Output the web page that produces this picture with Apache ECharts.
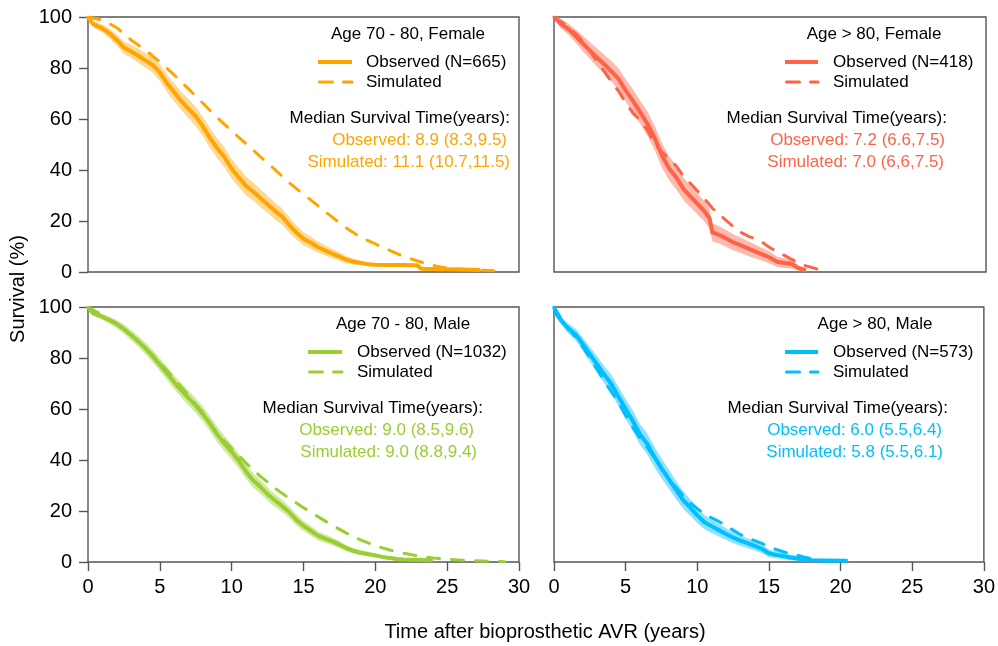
<!DOCTYPE html>
<html>
<head>
<meta charset="utf-8">
<script src="https://cdn.jsdelivr.net/npm/echarts@6/dist/echarts.min.js"></script>
<style>
  html, body { margin: 0; padding: 0; background: #fff; }
  #chart { width: 998px; height: 646px; }
</style>
</head>
<body>
<div id="chart"></div>
<script>
// ---- Kaplan-Meier survival after bioprosthetic AVR, by age group and sex ----

// Age 70 - 80, Female
const f7080Time = [0,0.3,0.5,1,1.5,2,2.5,3,3.5,4,4.5,5,5.5,6,6.5,7,7.5,8,8.5,9,9.5,10,10.5,11,11.5,12,12.5,13,13.5,14,14.5,15,15.5,16,16.5,17,17.5,18,18.5,19,19.5,20,21,22,22.9,23.2,24,25,26,27.3];
const f7080Obs  = [100,97.5,96.8,95.5,93.6,91,88,86.5,84.8,83,81.2,78.2,74,70.5,67,64,61,57,52.5,48.5,45,40.5,37,33.8,31.5,29,26.5,24,21.8,18.5,15.5,13,11.5,9.8,8.5,7.2,6,4.8,4,3.5,3,2.8,2.7,2.7,2.6,1.3,1.2,1.1,1.0,0.8];
const f7080Lo   = [100,96.3,95.5,93.9,91.7,88.9,85.6,83.9,82.1,80.1,78.2,75.0,70.6,67.0,63.4,60.3,57.2,53.2,48.6,44.6,41.1,36.7,33.2,30.1,27.9,25.5,23.1,20.7,18.6,15.5,12.7,10.4,9.1,7.6,6.5,5.4,4.4,3.4,2.8,2.7,2.4,2.3,2.3,2.3,2.2,1.0,0.9,0.8,0.7,0.6];
const f7080Hi   = [100,98.7,98.1,97.1,95.5,93.1,90.4,89.1,87.5,85.9,84.2,81.4,77.4,74.0,70.6,67.7,64.8,60.8,56.4,52.4,48.9,44.3,40.8,37.5,35.1,32.5,29.9,27.3,25.0,21.5,18.3,15.6,13.9,12.0,10.5,9.0,7.6,6.2,5.2,4.3,3.6,3.3,3.1,3.1,3.0,1.6,1.5,1.4,1.3,1.0];
const f7080SimTime = [0,1,2,3,4,5,6,7,8,9,10,11,12,13,14,15,16,17,18,19,20,21,22,23,24,25,26,27,28,29];
const f7080Sim     = [100,98.8,95.8,91,87,82.4,77.3,71.8,66.2,60.5,55.3,50.3,45.2,40.2,35,30.5,26,21.5,17.2,13.5,11,8.5,6,4.2,2.6,1.5,1.1,0.8,0.6,0.3];

// Age > 80, Female
const f80Time = [0,0.3,0.5,1,1.5,2,2.5,3,3.5,4,4.5,5,5.5,6,6.5,7,7.5,8,8.5,9,9.5,10,10.5,10.8,11,11.5,12,12.5,13,13.5,14,14.5,15,15.5,16,16.5,17,17.5];
const f80Obs  = [100,98.3,97.2,95.3,92.5,89.6,86.8,84,81.4,78.6,75.6,71,67,62.5,58,52.5,45.7,40.6,37,32.5,29.5,26.5,23.5,21,15.5,14.5,13,11.5,10.4,9.2,8,6.8,5.6,4,3.5,3.2,1.5,0.7];
const f80Lo   = [100,96.8,95.4,93.1,89.9,86.6,83.5,80.4,77.6,74.6,71.4,66.6,62.5,57.9,53.2,47.7,40.9,35.9,32.4,28.1,25.2,22.4,19.5,17.1,12.0,11.1,9.7,8.4,7.4,6.3,5.3,4.3,3.3,2.0,1.6,1.4,0.5,0.1];
const f80Hi   = [100,99.8,99.0,97.5,95.1,92.6,90.1,87.6,85.2,82.6,79.8,75.4,71.5,67.1,62.8,57.3,50.5,45.3,41.6,36.9,33.8,30.6,27.5,24.9,19.0,17.9,16.3,14.6,13.4,12.1,10.7,9.3,7.9,6.0,5.4,5.0,2.5,1.3];
const f80SimTime = [0,0.5,1,1.5,2,2.5,3,3.5,4,4.5,5,5.5,6,6.5,7,7.5,8,8.5,9,9.5,10,10.5,11,11.5,12,12.5,13,13.5,14,14.5,15,15.5,16,16.5,17,17.5,18,18.5,19];
const f80Sim     = [100,98.2,96,93.5,90.5,86.5,82.5,78.6,74.5,70.8,66.2,62.2,59.5,55.5,50.2,47,44.5,41.5,37.5,34.6,31.5,28.4,25,22.5,20,17.5,15.5,14,13,11.5,9.5,8,6.5,5,3.5,2.4,1.6,0.8,0.2];

// Age 70 - 80, Male
const m7080Time = [0,0.3,0.5,1,1.5,2,2.5,3,3.5,4,4.5,5,5.5,6,6.5,7,7.5,8,8.5,9,9.5,10,10.5,11,11.5,12,12.5,13,13.5,14,14.5,15,15.5,16,16.5,17,17.5,18,18.5,19,19.5,20,20.5,21,21.5,22,23,24];
const m7080Obs  = [100,97.8,97.2,96.2,94.8,93.3,91.3,89,86.5,83.8,80.7,77.4,74,70.5,67.3,64.3,61.3,58,54.2,50,46.4,43.2,39.6,35.5,32,29.5,26.6,24.2,22,19.6,16.5,14.2,12.3,10.3,9.2,8.1,6.8,5.4,4.3,3.6,3.1,2.6,2.0,1.6,1.2,1.0,0.8,0.7];
const m7080Lo   = [100,96.9,96.2,95.0,93.4,91.7,89.5,87.0,84.4,81.5,78.3,74.9,71.4,67.8,64.5,61.4,58.4,55.0,51.2,47.0,43.4,40.2,36.7,32.6,29.2,26.8,24.0,21.7,19.6,17.3,14.3,12.2,10.4,8.5,7.5,6.6,5.4,4.2,3.2,2.6,2.2,1.8,1.5,1.2,0.9,0.7,0.5,0.4];
const m7080Hi   = [100,98.7,98.2,97.4,96.2,94.9,93.1,91.0,88.6,86.1,83.1,79.9,76.6,73.2,70.1,67.2,64.2,61.0,57.2,53.0,49.4,46.2,42.5,38.4,34.8,32.2,29.2,26.7,24.4,21.9,18.7,16.2,14.2,12.1,10.9,9.6,8.2,6.6,5.4,4.6,4.0,3.4,2.5,2.0,1.5,1.3,1.1,1.0];
const m7080SimTime = [0,1,2,3,4,5,6,7,8,9,10,11,12,13,14,15,16,17,18,19,20,21,22,23,24,25,26,27,28,29];
const m7080Sim     = [100,96.8,93.4,89,84,78.2,71.8,65.3,58.6,50.3,44.5,38.8,33.6,29,25,21.3,17.8,14.4,11.3,8.6,6.4,4.7,3.4,2.4,1.6,1.1,0.7,0.5,0.3,0.1];

// Age > 80, Male
const m80Time = [0,0.2,0.5,1,1.5,2,2.5,3,3.5,4,4.5,5,5.5,6,6.5,7,7.5,8,8.5,9,9.5,10,10.5,11,11.5,12,12.5,13,13.5,14,14.5,15,15.5,16,16.5,17,17.5,18,19,20,20.5];
const m80Obs  = [100,97,94.7,91.5,89.3,85.5,81.5,77.6,73.5,69.8,64.8,60,55.4,50,46.4,41.3,36.7,32.6,28.4,24.4,21.4,18.3,15.6,14,12.5,11,9.6,8.4,7.4,6.3,5.2,3.4,2.8,2.3,1.8,1.4,0.9,0.7,0.6,0.5,0.5];
const m80Lo   = [100,95.8,93.2,89.6,87.1,83.0,78.6,74.4,70.1,66.2,61.0,56.1,51.4,45.9,42.3,37.3,32.8,28.8,24.8,21.0,18.2,15.3,12.8,11.4,10.0,8.7,7.4,6.4,5.5,4.5,3.5,1.9,1.5,1.1,0.7,0.4,0.3,0.2,0.2,0.2,0.2];
const m80Hi   = [100,98.2,96.2,93.4,91.5,88.0,84.4,80.8,76.9,73.4,68.6,63.9,59.4,54.1,50.5,45.3,40.6,36.4,32.0,27.8,24.6,21.3,18.4,16.6,15.0,13.3,11.8,10.4,9.3,8.1,6.9,4.9,4.1,3.5,2.9,2.4,1.8,1.3,1.0,0.8,0.8];
const m80SimTime = [0,0.5,1,1.5,2,2.5,3,3.5,4,4.5,5,5.5,6,6.5,7,7.5,8,8.5,9,9.5,10,10.5,11,11.5,12,12.5,13,13.5,14,14.5,15,15.5,16,16.5,17,17.5,18,18.5,19];
const m80Sim     = [100,95.5,91.8,88.2,84.4,80,75.6,71,66.8,62.5,57.5,52.8,48.6,45,40.8,36.8,33,29.4,26,23.2,20.9,18.9,17.3,15.9,14.2,12.5,10.8,9.4,8.4,7.3,6,4.9,4,3.2,2.6,1.9,1.3,0.8,0.3];

// Panel titles, cohort sizes and median survival (years, 95% CI)
const panelTitles   = ['Age 70 - 80, Female', 'Age > 80, Female', 'Age 70 - 80, Male', 'Age > 80, Male'];
const cohortSizes   = [665, 418, 1032, 573];
const medianObs     = ['8.9 (8.3,9.5)', '7.2 (6.6,7.5)', '9.0 (8.5,9.6)', '6.0 (5.5,6.4)'];
const medianSim     = ['11.1 (10.7,11.5)', '7.0 (6,6,7.5)', '9.0 (8.8,9.4)', '5.8 (5.5,6.1)'];

// Axis ticks
const xTicks = { min: 0, max: 30, step: 5 };
const yTicks = { min: 0, max: 100, step: 20 };

const FONT = '"Liberation Sans", Arial, Helvetica, sans-serif';
const AXIS_COLOR = '#555';

// Layout and colours of each panel (top-left, top-right, bottom-left, bottom-right)
const panels = [
  { data: [f7080Time, f7080Obs, f7080Lo, f7080Hi, f7080SimTime, f7080Sim],
    color: '#FFA500', band: '#FFD894',
    grid: { left: 88, top: 17, width: 431, height: 255 }, xLabels: false, yLabels: true,
    titleX: 408, legX1: 318, legX2: 352, legTextX: 366, headR: 510, obsR: 507, simR: 510 },
  { data: [f80Time, f80Obs, f80Lo, f80Hi, f80SimTime, f80Sim],
    color: '#FF6347', band: '#FFBAAD',
    grid: { left: 554, top: 17, width: 432, height: 255 }, xLabels: false, yLabels: false,
    titleX: 874, legX1: 785, legX2: 818, legTextX: 833, headR: 947, obsR: 945, simR: 944 },
  { data: [m7080Time, m7080Obs, m7080Lo, m7080Hi, m7080SimTime, m7080Sim],
    color: '#9ACD32', band: '#D2E9A2',
    grid: { left: 88, top: 307, width: 431, height: 255 }, xLabels: true, yLabels: true,
    titleX: 403, legX1: 308, legX2: 342, legTextX: 357, headR: 483, obsR: 474, simR: 477 },
  { data: [m80Time, m80Obs, m80Lo, m80Hi, m80SimTime, m80Sim],
    color: '#00BFFF', band: '#8FE1FF',
    grid: { left: 554, top: 307, width: 432, height: 255 }, xLabels: true, yLabels: false,
    titleX: 875, legX1: 785, legX2: 818, legTextX: 833, headR: 948, obsR: 942, simR: 943 }
];

const zip = (xs, ys) => xs.map((x, i) => [x, ys[i]]);

const grids = [], xAxes = [], yAxes = [], series = [], graphics = [];

function textEl(x, y, text, color, align) {
  return {
    type: 'text', x: x, y: y, z: 100, silent: true,
    style: {
      text: text, fill: color, font: '17px ' + FONT,
      textAlign: align, align: align,
      textVerticalAlign: 'middle', verticalAlign: 'middle'
    }
  };
}

// confidence band drawn as a single polygon through the axis scales
function bandRenderer(color) {
  return function (params, api) {
    if (params.dataIndexInside !== 0) return null;
    const n = params.dataInsideLength;
    const upper = [], lower = [];
    for (let k = 0; k < n; k++) {
      const t = api.value(0, k);
      upper.push(api.coord([t, api.value(2, k)]));
      lower.push(api.coord([t, api.value(1, k)]));
    }
    return {
      type: 'polygon',
      shape: { points: upper.concat(lower.reverse()) },
      style: { fill: color, stroke: null }
    };
  };
}

panels.forEach((p, i) => {
  const [time, obs, lo, hi, simTime, sim] = p.data;
  grids.push(Object.assign({ show: true, borderColor: AXIS_COLOR, borderWidth: 1.4, backgroundColor: 'transparent' }, p.grid));

  xAxes.push({
    type: 'value', gridIndex: i, min: xTicks.min, max: xTicks.max, interval: xTicks.step,
    axisLine: { show: false },
    axisTick: { show: p.xLabels, length: 9, lineStyle: { color: AXIS_COLOR, width: 1.4 } },
    axisLabel: { show: p.xLabels, fontSize: 20, fontFamily: FONT, color: '#000', margin: 15 },
    splitLine: { show: false }
  });
  yAxes.push({
    type: 'value', gridIndex: i, min: yTicks.min, max: yTicks.max, interval: yTicks.step,
    axisLine: { show: false },
    axisTick: { show: p.yLabels, length: 9, lineStyle: { color: AXIS_COLOR, width: 1.4 } },
    axisLabel: { show: p.yLabels, fontSize: 20, fontFamily: FONT, color: '#000', margin: 16 },
    splitLine: { show: false }
  });

  // 95% confidence band of the observed curve
  series.push({
    type: 'custom', xAxisIndex: i, yAxisIndex: i, z: 1, silent: true,
    data: time.map((t, k) => [t, lo[k], hi[k]]),
    encode: { x: 0, y: [1, 2] },
    renderItem: bandRenderer(p.band)
  });
  // observed Kaplan-Meier curve
  series.push({
    type: 'line', xAxisIndex: i, yAxisIndex: i,
    data: zip(time, obs), symbol: 'none', silent: true, z: 3,
    lineStyle: { color: p.color, width: 4, join: 'round' }
  });
  // simulated survival
  series.push({
    type: 'line', xAxisIndex: i, yAxisIndex: i,
    data: zip(simTime, sim), symbol: 'none', silent: true, z: 4,
    lineStyle: { color: p.color, width: 3, type: [12, 12], cap: 'round', join: 'round' }
  });

  const top = p.grid.top;
  graphics.push(textEl(p.titleX, top + 17.5, panelTitles[i], '#000', 'center'));
  graphics.push({
    type: 'line', z: 100, silent: true,
    shape: { x1: p.legX1, y1: top + 45, x2: p.legX2, y2: top + 45 },
    style: { stroke: p.color, lineWidth: 4 }
  });
  graphics.push({
    type: 'line', z: 100, silent: true,
    shape: { x1: p.legX1 + 1.5, y1: top + 65, x2: p.legX2, y2: top + 65 },
    style: { stroke: p.color, lineWidth: 3, lineDash: [13, 11], lineCap: 'round' }
  });
  graphics.push(textEl(p.legTextX, top + 45, 'Observed (N=' + cohortSizes[i] + ')', '#000', 'left'));
  graphics.push(textEl(p.legTextX, top + 65, 'Simulated', '#000', 'left'));
  graphics.push(textEl(p.headR, top + 101.6, 'Median Survival Time(years):', '#000', 'right'));
  graphics.push(textEl(p.obsR, top + 123.5, 'Observed: ' + medianObs[i], p.color, 'right'));
  graphics.push(textEl(p.simR, top + 145, 'Simulated: ' + medianSim[i], p.color, 'right'));
});

// shared axis titles
graphics.push({
  type: 'text', x: 545, y: 632, z: 100, silent: true,
  style: { text: 'Time after bioprosthetic AVR (years)', fill: '#000', font: '20px ' + FONT,
           textAlign: 'center', align: 'center', textVerticalAlign: 'middle', verticalAlign: 'middle' }
});
graphics.push({
  type: 'text', x: 18, y: 289, rotation: Math.PI / 2, z: 100, silent: true,
  style: { text: 'Survival (%)', fill: '#000', font: '20px ' + FONT,
           textAlign: 'center', align: 'center', textVerticalAlign: 'middle', verticalAlign: 'middle' }
});

const chart = echarts.init(document.getElementById('chart'), null, { renderer: 'canvas' });
chart.setOption({
  animation: false,
  backgroundColor: '#fff',
  grid: grids,
  xAxis: xAxes,
  yAxis: yAxes,
  series: series,
  graphic: { elements: graphics }
});
</script>
</body>
</html>
